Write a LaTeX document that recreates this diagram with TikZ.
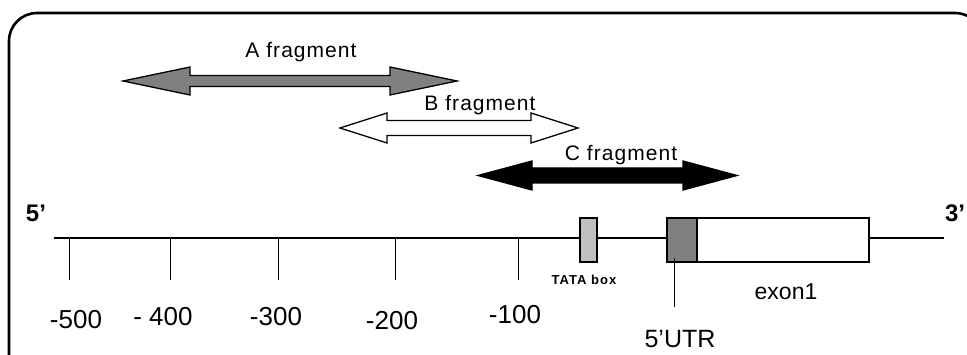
\documentclass[tikz,border=0pt]{standalone}
\usepackage{fontspec}
\setmainfont{Liberation Sans}
\newcommand\fragarrow[7]{% style, xleft, xright, y, head length, head half, shaft half
  \filldraw[#1] (#2,#4) -- (#2+#5,#4-#6) -- (#2+#5,#4-#7) -- (#3-#5,#4-#7) -- (#3-#5,#4-#6) -- (#3,#4)
    -- (#3-#5,#4+#6) -- (#3-#5,#4+#7) -- (#2+#5,#4+#7) -- (#2+#5,#4+#6) -- cycle;}
\begin{document}
\begin{tikzpicture}[x=1pt,y=-1pt,
  lbl/.style={font=\fontsize{21}{24}\selectfont\addfontfeatures{LetterSpace=5}, inner sep=0pt},
  num/.style={font=\fontsize{26}{29}\selectfont, inner sep=0pt},
  endlbl/.style={font=\bfseries\fontsize{24}{27}\selectfont, inner sep=0pt},
  arr/.style={draw=black, line width=1.3pt, line join=miter},
  gbox/.style={draw=black, line width=1.4pt, minimum height=44pt, inner sep=0pt},
  tick/.style={line width=1pt}]
\useasboundingbox (0,0) rectangle (967,355);
\begin{scope}
\clip (0,0) rectangle (967,355);
\draw[line width=2.6pt, rounded corners=28pt] (9,362) -- (9,13) -- (983,13) -- (983,362);
\end{scope}

% fragments
\fragarrow{arr, fill=gray}{123}{457}{81}{67}{14}{5.5}
\fragarrow{arr, fill=white}{340}{578}{128}{47}{15}{7.5}
\fragarrow{arr, fill=black}{478}{737}{175.5}{54}{14.5}{7.5}
\node[lbl] (la) at (301,52) {A fragment};
\node[lbl] (lb) at (480,105) {B fragment};
\node[lbl] (lc) at (621,155) {C fragment};

% main line
\coordinate (L) at (54,238);
\coordinate (R) at (944,238);
\draw[line width=2.8pt] (L) -- (R);
\node[endlbl] (five) at (36,213) {5’};
\node[endlbl] (three) at (955,213) {3’};

% ticks
\foreach \x/\n in {69/1,170/2,278/3,395/4,518/5}{
  \coordinate (tt\n) at (\x,238);
  \coordinate (tb\n) at (\x,280);
  \draw[tick] (tt\n) -- (tb\n);
}
\node[num] (n500) at (76,320) {-500};
\node[num] (n400) at (163,317) {- 400};
\node[num] (n300) at (276,317) {-300};
\node[num] (n200) at (392,321) {-200};
\node[num] (n100) at (515,315) {-100};

% boxes
\node[gbox, fill=gray!50, minimum width=17pt] (tata) at (588.5,240) {};
\node[gbox, fill=gray, minimum width=30pt] (utr) at (682,240) {};
\node[gbox, fill=white, minimum width=172pt] (exon) at (783,240) {};
\node[font=\bfseries\fontsize{13}{15}\selectfont, inner sep=0pt] (tatalbl) at (584,280) {\addfontfeatures{LetterSpace=8}TATA box};
\node[font=\fontsize{23}{26}\selectfont, inner sep=0pt] (exonlbl) at (786,292) {exon1};
\coordinate (utrtop) at (674,258);
\coordinate (utrbot) at (674,307);
\draw[tick] (utrtop) -- (utrbot);
\node[font=\fontsize{25}{28}\selectfont, inner sep=0pt] (utrlbl) at (680,339) {5’UTR};
\end{tikzpicture}
\end{document}
